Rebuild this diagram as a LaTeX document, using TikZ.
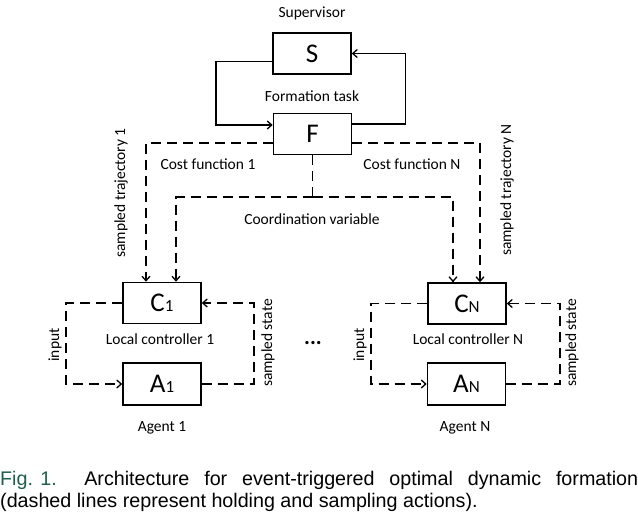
\documentclass[tikz,border=0pt]{standalone}
\usepackage{fontspec}
\setmainfont{Carlito}
\newfontfamily\capfont{Liberation Sans}
\usetikzlibrary{arrows.meta}
\definecolor{figgreen}{RGB}{30,95,75}
\begin{document}
\begin{tikzpicture}[x=1pt,y=-1pt,
  box/.style={draw,line width=1.6pt,minimum width=78pt,minimum height=41pt,inner sep=0pt,font=\fontsize{27}{30}\selectfont},
  lbl/.style={font=\fontsize{15.5}{18}\selectfont,inner sep=0pt},
  solidline/.style={line width=1.6pt},
  dashline/.style={line width=1.7pt,dash pattern=on 10pt off 6pt},
  tip/.style={-{Straight Barb[length=4.5pt,width=8pt,line width=1.3pt]}},
  captext/.style={anchor=base west,inner sep=0pt,font=\capfont\fontsize{19.7}{22}\selectfont}]
\useasboundingbox (0,0) rectangle (638,528);
% boxes
\node[box] (S) at (312,53.5) {S};
\node[box] (F) at (312.5,134) {F};
\node[box] (C1) at (162,303) {C\fontsize{17}{18}\selectfont 1};
\node[box,minimum height=42pt] (A1) at (162,384) {A\fontsize{17}{18}\selectfont 1};
\node[box] (CN) at (467,303.5) {C\fontsize{17}{18}\selectfont N};
\node[box,minimum height=42pt] (AN) at (466.5,384) {A\fontsize{17}{18}\selectfont N};
% labels
\node[lbl] (sup) at (312,13) {Supervisor};
\node[lbl] (ft) at (312,96) {Formation task};
\node[lbl] (cf1) at (208,164) {Cost function 1};
\node[lbl] (cfn) at (412,164) {Cost function N};
\node[lbl] (cv) at (312,219) {Coordination variable};
\node[lbl,rotate=90] (st1) at (121,193) {sampled trajectory 1};
\node[lbl,rotate=90] (stn) at (507,190) {sampled trajectory N};
\node[lbl] (lc1) at (160,339) {Local controller 1};
\node[lbl] (lcn) at (468,339) {Local controller N};
\node[lbl] (ag1) at (162,428) {Agent 1};
\node[lbl] (agn) at (465,428) {Agent N};
\node[lbl,rotate=90] (in1) at (55,345) {input};
\node[lbl,rotate=90] (inn) at (360,345) {input};
\node[lbl,rotate=90] (ss1) at (268,343) {sampled state};
\node[lbl,rotate=90] (ssn) at (572,343) {sampled state};
\node[lbl,font=\bfseries\fontsize{22}{24}\selectfont] (dots) at (313,343) {...};
% supervisor loop
\draw[solidline,tip] ([yshift=-8pt]S.west) -- ++(-56,0) |- ([yshift=9pt]F.west);
\draw[solidline,tip] ([yshift=10pt]F.east) -- ++(53,0) |- (S.east);
% dashed distribution
\coordinate (j) at (312.5,197);
\draw[dashline,tip] ([yshift=-9pt]F.west) -| ([xshift=-16pt]C1.north);
\draw[dashline,tip] ([yshift=-9pt]F.east) -| ([xshift=13pt]CN.north);
\draw[dashline] (F.south) -- (j);
\draw[dashline,tip] (j) -| ([xshift=14pt]C1.north);
\draw[dashline,tip] (j) -| ([xshift=-14pt]CN.north);
% local loops
\draw[dashline,tip] (C1.west) -- ++(-56,0) |- (A1.west);
\draw[dashline,tip] (A1.east) -- ++(52,0) |- (C1.east);
\draw[dashline,tip] (CN.west) -- ++(-56,0) |- (AN.west);
\draw[dashline,tip] (AN.east) -- ++(54,0) |- (CN.east);
% caption
\node[captext] (cap1) at (0,485)
  {\makebox[638pt][s]{\textcolor{figgreen}{\hbox{Fig. 1.}}\hskip 1.4em Architecture for event-triggered optimal dynamic formation}};
\node[captext] (cap2) at (0,507)
  {(dashed lines represent holding and sampling actions).};
\end{tikzpicture}
\end{document}
